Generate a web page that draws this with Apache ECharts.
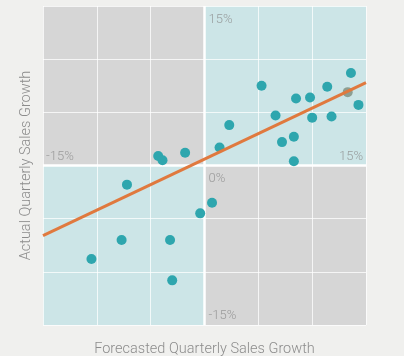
<!DOCTYPE html>
<html><head><meta charset="utf-8">
<script src="https://cdn.jsdelivr.net/npm/echarts@6/dist/echarts.min.js"></script>
<style>html,body{margin:0;padding:0;background:#f0f0ee;}#c{width:404px;height:356px;}</style>
</head><body><div id="c"></div>
<script>
// Forecasted (x) vs actual (y) quarterly sales growth, in %
const forecastX = [13.6, 5.3, 11.4, 8.5, 9.8, 14.3, 6.6, 10.0, 11.8, 2.3, 7.2, 8.3, 8.3, 1.4, -1.8, -4.3, -3.9, -7.2, 0.7, -0.4, -7.7, -3.2, -10.5, -3.0];
const actualY   = [8.7, 7.5, 7.4, 6.3, 6.4, 5.7, 4.7, 4.5, 4.6, 3.8, 2.2, 2.7, 0.4, 1.7, 1.2, 0.9, 0.5, -1.8, -3.5, -4.5, -7.0, -7.0, -8.8, -10.8];
// one point drawn in grey
const greyX = [13.3];
const greyY = [6.9];
// fitted trend line endpoints
const trendX = [-15, 15];
const trendY = [-6.6, 7.8];
// axis range
const axisMin = -15, axisMax = 15, axisStep = 5;
// in-plot tick labels
const tickLabels = [
  {x: 0, y: 15, text: '15%', pos: 'top'},
  {x: -15, y: 0, text: '-15%', pos: 'leftAxis'},
  {x: 15, y: 0, text: '15%', pos: 'rightAxis'},
  {x: 0, y: 0, text: '0%', pos: 'zero'},
  {x: 0, y: -15, text: '-15%', pos: 'bottom'}
];
const xTitle = 'Forecasted Quarterly Sales Growth';
const yTitle = 'Actual Quarterly Sales Growth';

const FONT = 'Roboto';
const TXT = '#8c8c8c';
const labelOffsets = {
  top: {align:'left', verticalAlign:'top', offset:[4, 7]},
  leftAxis: {align:'left', verticalAlign:'bottom', offset:[3, -2]},
  rightAxis: {align:'right', verticalAlign:'bottom', offset:[-3, -2]},
  zero: {align:'left', verticalAlign:'top', offset:[4, 7]},
  bottom: {align:'left', verticalAlign:'bottom', offset:[4, -3]}
};

const chart = echarts.init(document.getElementById('c'), null, {renderer:'canvas'});
const axisCommon = {
  type:'value', min:axisMin, max:axisMax, interval:axisStep, z:2,
  axisLine:{show:false}, axisTick:{show:false}, axisLabel:{show:false},
  splitLine:{show:true, lineStyle:{color:'#ffffff', width:1, opacity:0.75}},
  nameLocation:'middle',
  nameTextStyle:{color:TXT, fontSize:14.5, fontFamily:FONT, fontWeight:300}
};
const TEAL_BG = '#cce5e7', GREY_BG = '#d6d6d6';
chart.setOption({
  backgroundColor:'#f0f0ee',
  animation:false,
  grid:{left:43, right:38, top:6, bottom:31, containLabel:false, outerBoundsMode:'none'},
  xAxis:Object.assign({}, axisCommon, {name:xTitle, nameGap:17}),
  yAxis:Object.assign({}, axisCommon, {name:yTitle, nameGap:9}),
  series:[
    {
      type:'scatter', data:[], z:0,
      markArea:{silent:true, z:0, data:[
        [{coord:[0,0], itemStyle:{color:TEAL_BG, opacity:1}},{coord:[axisMax,axisMax]}],
        [{coord:[0,0], itemStyle:{color:GREY_BG, opacity:1}},{coord:[axisMax,axisMin]}],
        [{coord:[axisMin,axisMax], itemStyle:{color:GREY_BG, opacity:1}},{coord:[0,0]}],
        [{coord:[axisMin,axisMin], itemStyle:{color:TEAL_BG, opacity:1}},{coord:[0,0]}]
      ]}
    },
    {
      type:'scatter', data:[], z:3,
      markLine:{silent:true, symbol:'none', label:{show:false}, z:3,
        lineStyle:{color:'#ffffff', width:2.5, type:'solid', opacity:1},
        data:[{xAxis:0},{yAxis:0}]}
    },
    {
      type:'scatter', z:4, symbolSize:10,
      itemStyle:{color:'#2ea6ae', opacity:1},
      data: forecastX.map((x,i)=>[x, actualY[i]])
    },
    {
      type:'scatter', z:4, symbolSize:10,
      itemStyle:{color:'#8c9e92', opacity:1},
      data: greyX.map((x,i)=>[x, greyY[i]])
    },
    {
      type:'line', z:5, symbol:'none', silent:true,
      lineStyle:{color:'#e0793e', width:3},
      data: trendX.map((x,i)=>[x, trendY[i]])
    },
    {
      type:'scatter', z:6, symbolSize:0, silent:true,
      data: tickLabels.map(t=>({value:[t.x,t.y], label:Object.assign({
        show:true, formatter:t.text, position:'inside', color:TXT,
        fontSize:13, fontFamily:FONT, fontWeight:300
      }, labelOffsets[t.pos])}))
    }
  ]
});
</script></body></html>
